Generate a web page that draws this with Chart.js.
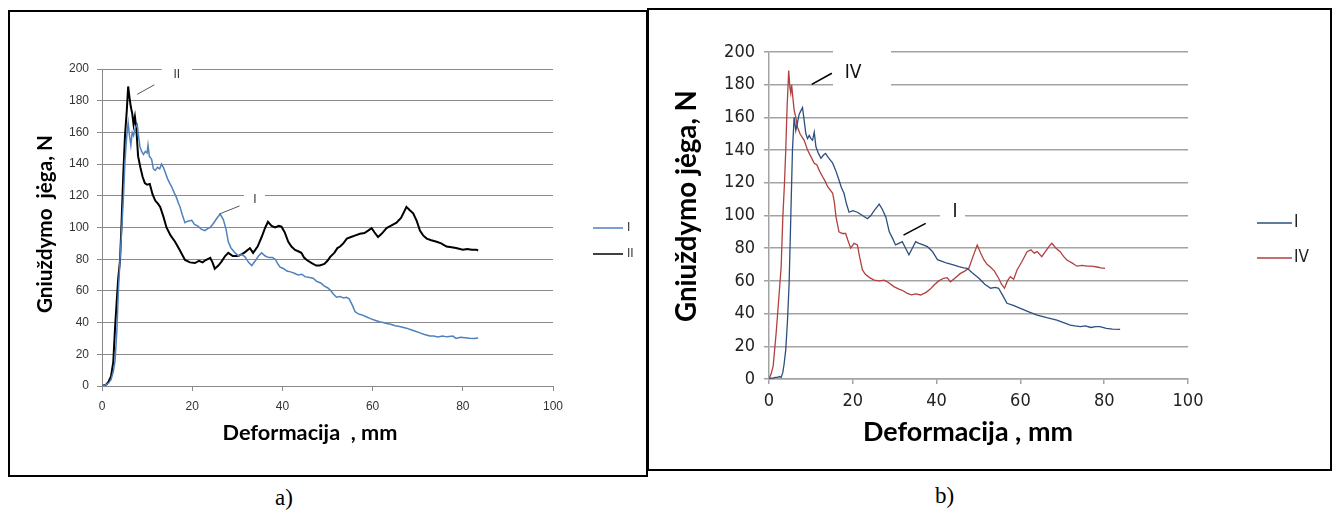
<!DOCTYPE html>
<html><head><meta charset="utf-8">
<script src="https://cdn.jsdelivr.net/npm/chart.js@4.4.1/dist/chart.umd.min.js"></script>
<style>
html,body{margin:0;padding:0;background:#fff;}
body{width:1337px;height:513px;position:relative;overflow:hidden;}
.box{position:absolute;border:2px solid #000;box-sizing:border-box;}
canvas{position:absolute;}
.cap{position:absolute;font-family:"Liberation Serif","DejaVu Serif",serif;font-size:23px;color:#000;line-height:1;}
</style></head><body>
<div class="box" style="left:647px;top:8px;width:685px;height:463px;"></div>
<div class="box" style="left:8px;top:10px;width:640px;height:467px;"></div>
<canvas id="cA" width="636" height="463" style="left:10px;top:12px;"></canvas>
<canvas id="cB" width="681" height="459" style="left:649px;top:10px;"></canvas>
<div class="cap" style="left:275px;top:486px;">a)</div>
<div class="cap" style="left:935px;top:484px;">b)</div>
<script>
// ---- axes / labels ----
const xTicks = [0, 20, 40, 60, 80, 100];
const yTicks = [0, 20, 40, 60, 80, 100, 120, 140, 160, 180, 200];
const namesA = ['I', 'II'];
const namesB = ['I', 'IV'];
const xTitle = 'Deformacija , mm';
const yTitle = 'Gniuždymo jėga, N';

// ---- chart a) series I ----
const defA_I = [0,0.5,1,1.5,2,2.5,2.9,3.3,3.6,4,
 4.4,4.8,5.1,5.5,5.8,6.1,6.4,6.7,7,7.4,
 7.8,8.1,8.4,8.8,9.2,9.6,10,10.2,10.5,11,
 11.4,11.8,12.3,12.8,13.2,13.6,14,14.5,15,15.4,
 16,16.5,17,17.3,17.8,18.4,19,19.9,20.5,21.2,
 22,22.8,23.5,24,24.8,25.5,26.2,26.9,27.5,28,
 28.6,29.5,30.3,31,31.7,32.5,33.2,34,34.7,35.4,
 36.2,37,37.8,38.4,39,39.5,40.3,41,41.8,42.8,
 43.5,44.3,45,46,46.8,47.6,48.5,49.3,50,50.6,
 51.3,52,52.8,53.5,54.2,54.8,55.5,56.1,56.8,57.5,
 58.7,59.5,60.5,61.5,62.3,63.1,64,65,66,67.5,
 68.5,69.5,70.5,71.5,72.7,73.5,74.5,75.5,76.5,77.8,
 78.5,79.5,80.5,81.5,82.5,83.4];
const forceA_I = [0,0.5,1,2,4,9,16,35,58,80,
 100,122,142,158,166,158,152,160,158,163,
 165,158,151,148,146,148,147,152,145,143,
 137,136,138,137,140,138,135,131,128,126,
 122,119,115,113,108,103,104,104.5,102,101,
 99,98,99.5,100,103,106,108.5,105,99,91,
 87,84,82,83,81.5,78,76,79,82,84,
 82,81,81,80,77,75,74,72.5,72,71,
 70,70.5,69,68.5,68,66,65,63,62,60.5,
 58,56,56.5,55.5,56,55,51,47,45.5,45,
 43.5,42.5,41.5,40.5,40,39.5,39,38,37.5,36.5,
 35.5,34.5,33.5,32.5,31.5,31.5,31,31.5,31,31.5,
 30,30.8,30.5,30.2,30,30.3];

// ---- chart a) series II ----
const defA_II = [0,0.5,1,1.5,2,2.5,2.9,3.3,3.6,4,
 4.3,4.7,5.1,5.5,5.8,6.1,6.4,6.7,7,7.3,
 7.6,8,8.5,9,9.5,10,10.6,11.2,11.8,12.4,
 12.9,13.6,14.3,15.2,16.2,17.2,18.4,19.5,20.6,21.5,
 22.3,23,24,24.5,25,25.8,26.5,27.3,28,29,
 30.2,31.5,32.8,33.5,34.5,35.4,36.2,36.8,37.6,38.4,
 39.2,39.8,40.5,41.3,42,42.8,43.5,44.2,44.8,45.4,
 46.5,47.5,48.3,49.3,50,50.6,51.5,52.2,52.8,53.5,
 54.3,55.2,56.2,57.2,58.2,59,59.8,60.4,61.2,62,
 63.1,64,65.3,66.3,67,67.5,68.2,69,69.8,70.5,
 71.2,72,73,74.2,75.2,76.4,77.5,78.5,80,81,
 82,83,83.4];
const forceA_II = [0,0.5,1,3,6,15,37,55,68,79.5,
 100,132,158,174,189,182,176,172,165,170,
 163,145,138,132,128,127,127.5,121,117,115,
 113,107,100,95,91,86,79.5,78,77.6,79,
 78,79.5,80.8,78,74,76,78.5,82,84,82,
 82,84,87,84,88,94,100,103.6,101,100,
 101,100.5,97,91,88,85.8,85,84,81,79.5,
 77.5,76,76,77,79,81.5,84,87,88,90,
 93,94,95,96,96.5,98,99.6,97,94,96,
 99.6,101,103,106,110,113,111,109,104,98,
 95,93,92,91,90,88,87.5,87,86,86.5,
 86,86,85.5];

// ---- chart b) series I ----
const defB_I = [0,0.5,1,1.5,2,2.5,2.9,3.3,3.6,4,
 4.4,4.8,5.2,5.6,6,6.4,6.8,7.2,7.6,8,
 8.4,8.8,9.2,9.6,10,10.4,10.8,11.2,11.8,12.4,
 13,13.5,14,14.6,15.2,16,16.7,17.3,17.9,18.5,
 19.1,20,21.1,22.3,23.5,24.3,25.1,25.7,26.3,27,
 27.9,28.7,29.5,30.2,31,31.8,32.6,33.4,34.2,35,
 35.8,36.8,37.8,39,40.2,41.3,42.5,43.8,45.3,46.5,
 47.3,48.5,50.1,51.5,52.9,54,54.8,55.8,56.8,58.3,
 60,62,64,66.3,68.7,70.3,71.9,73,74.3,75.5,
 76.8,78,79,80.5,82,83.8];
const forceB_I = [0,0.5,0.5,1,1,1.5,1,4,9,18,
 35,58,99,140,160,152,157,162,164,166,
 158,150,147,149,147,146,151,142,138,135,
 137,138,136,134,132,127,121.7,117,113.6,107,
 102,103,102,100,98,100,103,105,107,104,
 99,90,86,82,83,84,80,76,80,84,
 83,82,81,78,73,72,70.8,70,68.7,68,
 67.7,65,61.6,58,55.5,56,55.5,51,46.3,45,
 43.2,41,39.1,37.5,36,34.5,33,32.5,32,32.5,
 31.5,32,32,31,30.5,30.4];

// ---- chart b) series IV ----
const defB_IV = [0,0.5,1,1.7,2.3,2.9,3.3,3.7,4,4.3,
 4.7,5,5.2,5.4,5.7,6,6.4,6.8,7.4,8.4,
 9.2,10,10.8,11.4,12.1,12.8,13.4,14,15.2,15.6,
 16,16.7,17.5,18.3,18.8,19.5,20.3,21.1,21.6,22.3,
 23,24,25.1,26.3,27.5,28.5,29.8,31,32,33,
 34,35,36.2,37.5,38.5,39.4,40.5,41.7,42.5,43.3,
 44.5,45.7,46.7,47.7,48.7,49.7,50.5,51.3,52.1,52.9,
 53.8,54.8,55.5,56.2,56.9,57.6,58.4,59.2,60.4,61.6,
 62.5,63.3,64,65.1,66,66.8,67.5,68.5,69.5,70.3,
 71.1,72.3,73.5,74.7,75.9,77,78.3,79.2,80.2];
const forceB_IV = [0,3,8,28,48,68.7,99,120,140,165,
 188.6,178,174.7,180,172,164.5,160,154,150,146,
 140,136,132,131,127,123.7,121,117.6,113.6,108,
 99,90,89,89,85,80,83,82,75,66.7,
 64,62,60.5,60,60.5,59,56.5,55,54,52.4,
 51.5,52,51.4,53,55,57.5,60,61.6,62,59.5,
 62,64.6,66,67.7,75,82,77,72.8,70,68.3,
 66,61.6,58,55.5,60,62.6,61,66.7,72,77.9,
 79,77,77.9,74.8,78,81,83,80,77.9,75,
 72.8,71,69,69.5,69,69,68.5,68,67.7];

function pts(xs, ys) { return xs.map((x, i) => ({x: x, y: ys[i]})); }

function makeDecor(o) {
  return {
    id: 'decor',
    beforeDatasetsDraw(chart) {
      const ctx = chart.ctx, xs = chart.scales.x, ys = chart.scales.y;
      ctx.save();
      ctx.fillStyle = '#fff';
      o.notes.forEach(n => {
        const px = xs.getPixelForValue(n.at[0]), py = ys.getPixelForValue(n.at[1]);
        ctx.fillRect(px + n.box[0], py + n.box[1], n.box[2] - n.box[0], n.box[3] - n.box[1]);
      });
      ctx.restore();
    },
    afterDraw(chart) {
      const ctx = chart.ctx, xs = chart.scales.x, ys = chart.scales.y;
      ctx.save();
      o.notes.forEach(n => {
        ctx.strokeStyle = n.lineColor; ctx.lineWidth = n.lineWidth;
        ctx.beginPath();
        ctx.moveTo(xs.getPixelForValue(n.from[0]), ys.getPixelForValue(n.from[1]));
        ctx.lineTo(xs.getPixelForValue(n.to[0]), ys.getPixelForValue(n.to[1]));
        ctx.stroke();
        ctx.fillStyle = n.color; ctx.font = n.font;
        ctx.textAlign = 'center'; ctx.textBaseline = 'middle';
        ctx.fillText(n.text, xs.getPixelForValue(n.at[0]), ys.getPixelForValue(n.at[1]));
      });
      const L = o.legend;
      chart.data.datasets.forEach((ds, i) => {
        const y = L.y + i * L.gap;
        ctx.strokeStyle = ds.borderColor; ctx.lineWidth = L.lw;
        ctx.beginPath(); ctx.moveTo(L.x0, y); ctx.lineTo(L.x1, y); ctx.stroke();
        ctx.fillStyle = L.color; ctx.font = L.font;
        ctx.textAlign = 'left'; ctx.textBaseline = 'middle';
        ctx.fillText(ds.label, L.tx, y);
      });
      o.titles.forEach(t => {
        ctx.save();
        ctx.translate(t.x, t.y); ctx.rotate(t.rot || 0);
        ctx.font = t.weight + ' 100px ' + t.family;
        const w = ctx.measureText(t.text).width;
        const size = 100 * t.width / w;
        ctx.font = t.weight + ' ' + size.toFixed(2) + 'px ' + t.family;
        ctx.fillStyle = t.color; ctx.textAlign = 'center'; ctx.textBaseline = 'middle';
        ctx.fillText(t.text, 0, 0);
        ctx.restore();
      });
      ctx.restore();
    }
  };
}

function scalesCfg(s) {
  return {
    x: {
      type: 'linear', min: xTicks[0], max: xTicks[xTicks.length - 1],
      ticks: {stepSize: xTicks[1] - xTicks[0], font: s.tickFont, color: s.tickColor, padding: s.xPad, maxRotation: 0},
      grid: {drawOnChartArea: false, drawTicks: true, tickLength: 5, color: s.gridColor, lineWidth: s.gridW},
      border: {display: true, color: s.gridColor, width: s.gridW},
      afterFit(sc) { sc.height = s.xH; }
    },
    y: {
      min: yTicks[0], max: yTicks[yTicks.length - 1],
      ticks: {stepSize: yTicks[1] - yTicks[0], font: s.tickFont, color: s.tickColor, padding: s.yPad},
      grid: {drawTicks: true, tickLength: 5, color: s.gridColor, lineWidth: s.gridW},
      border: {display: true, color: s.gridColor, width: s.gridW},
      afterFit(sc) { sc.width = s.yW; }
    }
  };
}

const titleFam = 'Lato, "Open Sans", "DejaVu Sans", sans-serif';

new Chart(document.getElementById('cA'), {
  type: 'line',
  data: {
    datasets: [
      {label: namesA[0], data: pts(defA_I, forceA_I), borderColor: '#4f81bd', borderWidth: 1.5, pointRadius: 0, tension: 0, fill: false},
      {label: namesA[1], data: pts(defA_II, forceA_II), borderColor: '#000000', borderWidth: 2, pointRadius: 0, tension: 0, fill: false}
    ]
  },
  options: {
    responsive: false, animation: false,
    layout: {padding: {left: 0, top: 57, right: 93, bottom: 0}},
    plugins: {legend: {display: false}, tooltip: {enabled: false}},
    scales: scalesCfg({tickFont: {family: '"Liberation Sans", Arial, sans-serif', size: 12}, tickColor: '#333',
      gridColor: '#8a8a8a', gridW: 1, xPad: 8, yPad: 8, xH: 89, yW: 92})
  },
  plugins: [makeDecor({
    notes: [
      {text: 'II', at: [16.6, 196.2], box: [-15, -12, 15, 13], from: [7.8, 184], to: [11.6, 190],
       font: '12px "Liberation Sans", Arial, sans-serif', color: '#333', lineColor: '#555', lineWidth: 1},
      {text: 'I', at: [33.9, 117.4], box: [-11, -12, 10, 12], from: [26.0, 108.5], to: [30.5, 113.6],
       font: '12px "Liberation Sans", Arial, sans-serif', color: '#333', lineColor: '#555', lineWidth: 1}
    ],
    legend: {x0: 583, x1: 613, tx: 617, y: 216, gap: 26, lw: 1.5, color: '#333', font: '12px "Liberation Sans", Arial, sans-serif'},
    titles: [
      {text: 'Deformacija  , mm', x: 300, y: 421, width: 175, weight: 'bold', family: titleFam, color: '#000'},
      {text: 'Gniuždymo  jėga, N', x: 35, y: 212, width: 178, rot: -Math.PI / 2, weight: 'bold', family: titleFam, color: '#000'}
    ]
  })]
});

const narrow = '"Liberation Sans Narrow", "DejaVu Sans Condensed", "Roboto Condensed", sans-serif';
new Chart(document.getElementById('cB'), {
  type: 'line',
  data: {
    datasets: [
      {label: namesB[0], data: pts(defB_I, forceB_I), borderColor: '#2c4f7f', borderWidth: 1.3, pointRadius: 0, tension: 0, fill: false},
      {label: namesB[1], data: pts(defB_IV, forceB_IV), borderColor: '#b0413e', borderWidth: 1.3, pointRadius: 0, tension: 0, fill: false}
    ]
  },
  options: {
    responsive: false, animation: false,
    layout: {padding: {left: 0, top: 42, right: 142, bottom: 0}},
    plugins: {legend: {display: false}, tooltip: {enabled: false}},
    scales: scalesCfg({tickFont: {family: narrow, size: 18}, tickColor: '#222',
      gridColor: '#a3a3a3', gridW: 1.5, xPad: 7, yPad: 9, xH: 90, yW: 120})
  },
  plugins: [makeDecor({
    notes: [
      {text: 'IV', at: [20.05, 187.3], box: [-20, -28, 38, 19], from: [10.2, 180.2], to: [15, 187],
       font: '19px ' + narrow, color: '#111', lineColor: '#000', lineWidth: 1.6},
      {text: 'I', at: [44.4, 102.3], box: [-15, -12, 10, 12], from: [32.1, 88], to: [37.4, 95.2],
       font: '19px ' + narrow, color: '#111', lineColor: '#000', lineWidth: 1.6}
    ],
    legend: {x0: 608, x1: 643, tx: 645, y: 213, gap: 35, lw: 1.3, color: '#222', font: '17px ' + narrow},
    titles: [
      {text: xTitle, x: 319, y: 422, width: 210, weight: 'bold', family: titleFam, color: '#000'},
      {text: yTitle, x: 38, y: 196, width: 232, rot: -Math.PI / 2, weight: 'bold', family: titleFam, color: '#000'}
    ]
  })]
});
</script>
</body></html>
